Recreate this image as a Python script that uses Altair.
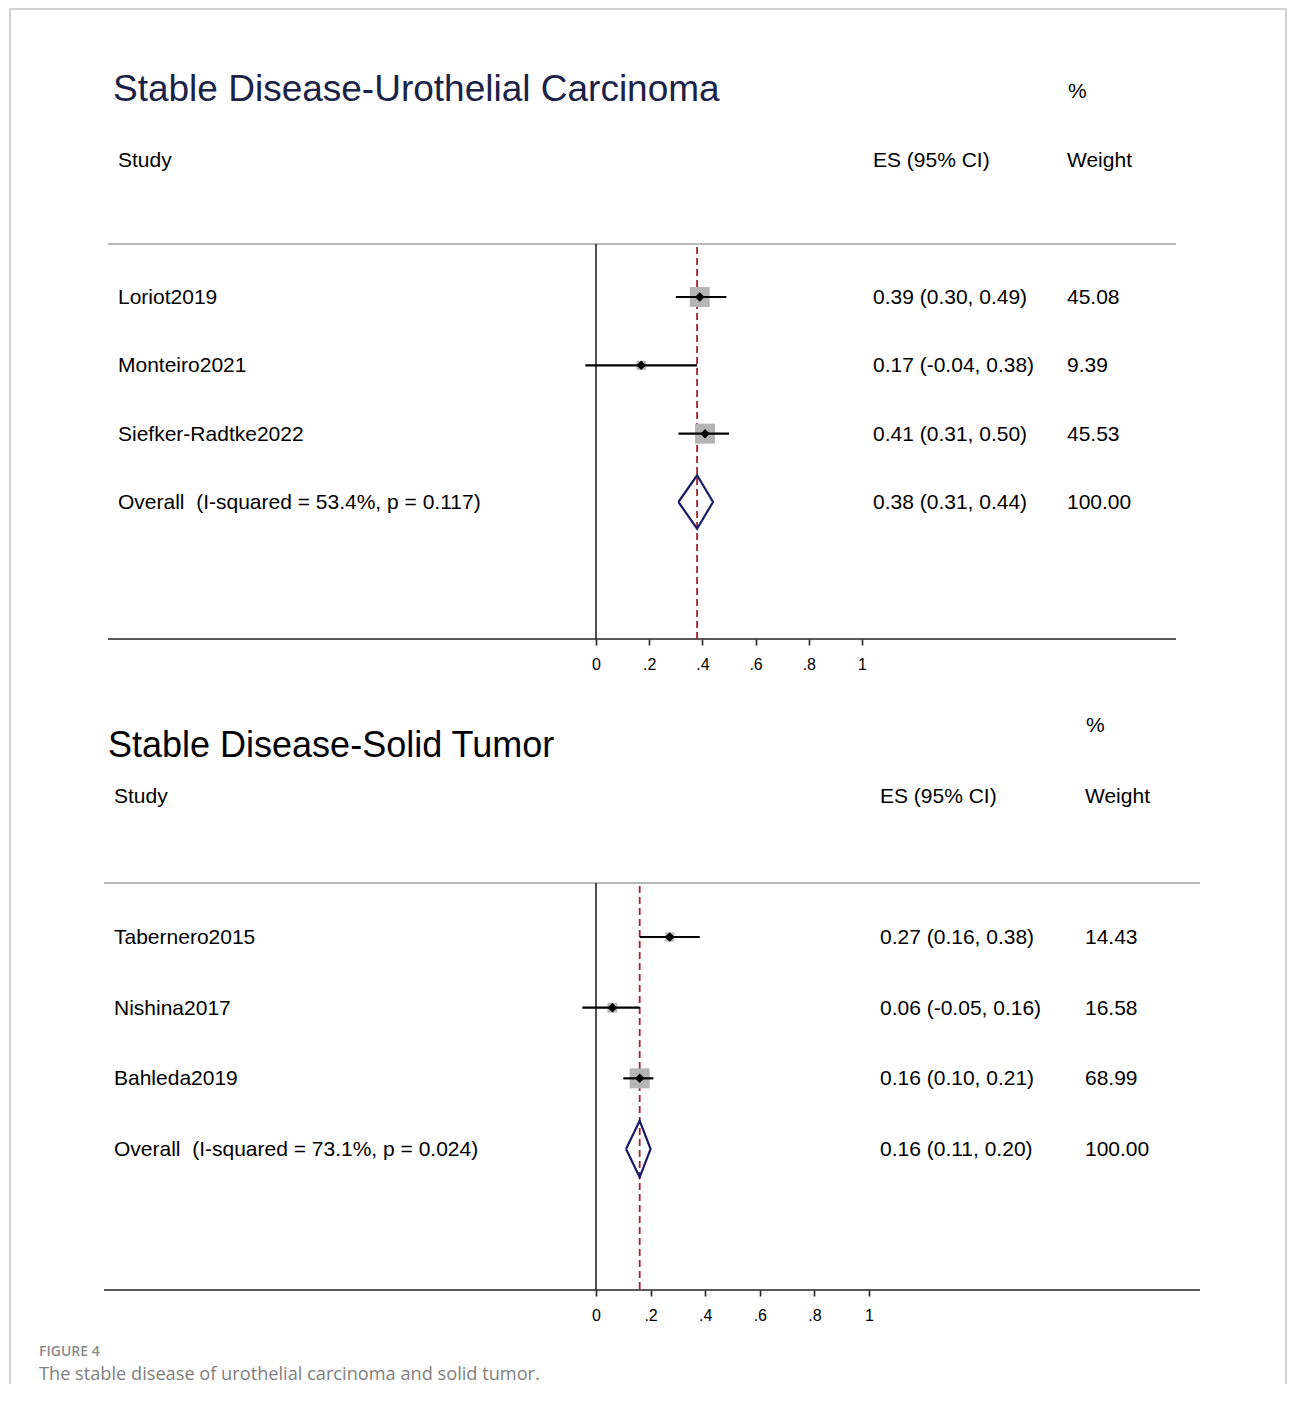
import altair as alt
import pandas as pd

FONT = "Liberation Sans"
W, H = 1279, 1376

# ---------------- data ----------------
top_title = "Stable Disease-Urothelial Carcinoma"
top_studies = ["Loriot2019", "Monteiro2021", "Siefker-Radtke2022"]
top_es = [0.39, 0.17, 0.41]
top_lo = [0.30, -0.04, 0.31]
top_hi = [0.49, 0.38, 0.50]
top_wt = [45.08, 9.39, 45.53]
top_overall = [0.38, 0.31, 0.44]
top_i2 = "53.4%"
top_p = "0.117"

bot_title = "Stable Disease-Solid Tumor"
bot_studies = ["Tabernero2015", "Nishina2017", "Bahleda2019"]
bot_es = [0.27, 0.06, 0.16]
bot_lo = [0.16, -0.05, 0.10]
bot_hi = [0.38, 0.16, 0.21]
bot_wt = [14.43, 16.58, 68.99]
bot_overall = [0.16, 0.11, 0.20]
bot_i2 = "73.1%"
bot_p = "0.024"

tick_values = [0, 0.2, 0.4, 0.6, 0.8, 1]
tick_labels = ["0", ".2", ".4", ".6", ".8", "1"]

caption_head = "FIGURE 4"
caption_text = "The stable disease of urothelial carcinoma and solid tumor."

# ---------------- layout (page pixels) ----------------
def P(v):
    return v - 8

top_layout = dict(x_left=108, x_right=1176, y_top=244, y_axis=639, x0=596, x1=862,
                  y_first=297, y_last=502, title_x=113, title_y=90, title_size=37,
                  title_color="#1b2247", pct_x=1068, pct_y=92, hdr_y=161,
                  study_x=118, es_x=873, wt_x=1067, diamond_half=26.7)
bot_layout = dict(x_left=104, x_right=1200, y_top=883, y_axis=1290, x0=596, x1=869,
                  y_first=937, y_last=1149, title_x=108, title_y=746, title_size=36,
                  title_color="#000000", pct_x=1086, pct_y=726, hdr_y=797,
                  study_x=114, es_x=880, wt_x=1085, diamond_half=28.3)

label_expr = " : ".join(
    f"abs(datum.value - {v}) < 1e-6 ? '{t}'" for v, t in zip(tick_values, tick_labels)
) + " : ''"

one = pd.DataFrame({"k": [0]})


def txt(text, x, y, size=21, color="black", font=FONT, weight="normal"):
    return alt.Chart(one).mark_text(
        text=text, align="left", baseline="middle", font=font, fontSize=size,
        color=color, fontWeight=weight
    ).encode(x=alt.value(x), y=alt.value(y))


def panel(title, studies, es, lo, hi, wt, ov, i2, p, L):
    n = len(studies)
    xs = alt.Scale(domain=[0, 1], range=[P(L["x0"]), P(L["x1"])], nice=False, zero=False)
    ys = alt.Scale(domain=[1, n + 1], range=[P(L["y_first"]), P(L["y_last"])],
                   nice=False, zero=False)
    axis = alt.Axis(orient="bottom", offset=P(L["y_axis"]) - H, values=tick_values,
                    labelExpr=label_expr, domain=False, grid=False, ticks=True,
                    tickSize=6, tickWidth=1.6, tickColor="#222222",
                    labelFont=FONT, labelFontSize=16, labelColor="black",
                    labelFlush=False, labelOverlap=False,
                    labelPadding=11, title=None)

    def X(field):
        return alt.X(field, type="quantitative", scale=xs, axis=axis)

    def XD(v):
        return alt.X(datum=v, type="quantitative", scale=xs, axis=axis)

    def Y(field):
        return alt.Y(field, type="quantitative", scale=ys, axis=None)

    df = pd.DataFrame({"row": list(range(1, n + 1)), "es": es, "lo": lo, "hi": hi, "wt": wt})
    labels = list(studies) + [f"Overall\u00a0 (I-squared = {i2}, p = {p})"]
    es_txt = [f"{a:.2f} ({b:.2f}, {c:.2f})" for a, b, c in zip(es, lo, hi)] + \
             [f"{ov[0]:.2f} ({ov[1]:.2f}, {ov[2]:.2f})"]
    wt_txt = [f"{w:.2f}" for w in wt] + ["100.00"]
    tdf = pd.DataFrame({"row": list(range(1, n + 2)), "label": labels,
                        "es_txt": es_txt, "wt_txt": wt_txt})

    row_px = (L["y_last"] - L["y_first"]) / n
    h = L["diamond_half"] / row_px
    r = n + 1
    ddf = pd.DataFrame({"x": [ov[1], ov[0], ov[2], ov[0], ov[1]],
                        "y": [r, r - h, r, r + h, r], "o": list(range(5))})

    top_line = alt.Chart(one).mark_rule(color="#a0a0a0", strokeWidth=1.5).encode(
        x=alt.value(P(L["x_left"])), x2=alt.value(P(L["x_right"])), y=alt.value(P(L["y_top"])))
    axis_line = alt.Chart(one).mark_rule(color="#222222", strokeWidth=1.6).encode(
        x=alt.value(P(L["x_left"])), x2=alt.value(P(L["x_right"])), y=alt.value(P(L["y_axis"])))
    zero_line = alt.Chart(one).mark_rule(color="#222222", strokeWidth=1.6).encode(
        x=XD(0), y=alt.value(P(L["y_top"])), y2=alt.value(P(L["y_axis"])))
    ov_line = alt.Chart(one).mark_rule(color="#a3242c", strokeWidth=1.8,
                                       strokeDash=[7, 4]).encode(
        x=XD(ov[0]), y=alt.value(P(L["y_top"]) + 3), y2=alt.value(P(L["y_axis"])))
    squares = alt.Chart(df).mark_square(color="#b4b4b4", opacity=1).encode(
        x=X("es"), y=Y("row"),
        size=alt.Size("wt:Q", scale=alt.Scale(domain=[0, max(wt)], range=[0, 400]),
                      legend=None))
    ci = alt.Chart(df).mark_rule(color="black", strokeWidth=2.2).encode(
        x=X("lo"), x2="hi", y=Y("row"))
    dots = alt.Chart(df).mark_point(shape="diamond", filled=True, color="black",
                                    size=90, opacity=1).encode(x=X("es"), y=Y("row"))
    diamond = alt.Chart(ddf).mark_line(color="#1a1a66", strokeWidth=2.2,
                                       strokeJoin="miter").encode(
        x=X("x"), y=Y("y"), order="o:Q")

    def col(field, xpos):
        return alt.Chart(tdf).mark_text(align="left", baseline="middle", font=FONT,
                                        fontSize=21, color="black", dy=1).encode(
            x=alt.value(P(xpos)), y=Y("row"), text=f"{field}:N")

    headers = [
        txt(title, P(L["title_x"]), P(L["title_y"]), size=L["title_size"], color=L["title_color"]),
        txt("%", P(L["pct_x"]), P(L["pct_y"])),
        txt("Study", P(L["study_x"]), P(L["hdr_y"])),
        txt("ES (95% CI)", P(L["es_x"]), P(L["hdr_y"])),
        txt("Weight", P(L["wt_x"]), P(L["hdr_y"])),
    ]

    return alt.layer(top_line, axis_line, zero_line, ov_line, squares, ci, dots, diamond,
                     col("label", L["study_x"]), col("es_txt", L["es_x"]),
                     col("wt_txt", L["wt_x"]), *headers)


top = panel(top_title, top_studies, top_es, top_lo, top_hi, top_wt, top_overall,
            top_i2, top_p, top_layout)
bot = panel(bot_title, bot_studies, bot_es, bot_lo, bot_hi, bot_wt, bot_overall,
            bot_i2, bot_p, bot_layout)

frame_color = "#d2d2d2"
frame = [
    alt.Chart(one).mark_rule(color=frame_color, strokeWidth=2).encode(
        x=alt.value(P(9)), x2=alt.value(W), y=alt.value(P(8) + 1)),
    alt.Chart(one).mark_rule(color=frame_color, strokeWidth=2).encode(
        x=alt.value(P(10)), y=alt.value(P(8)), y2=alt.value(H)),
    alt.Chart(one).mark_rule(color=frame_color, strokeWidth=2).encode(
        x=alt.value(W - 1), y=alt.value(P(8)), y2=alt.value(H)),
]

caption = [
    txt(caption_head, P(39), P(1352), size=14, color="#8a8a8a", font="Open Sans", weight=600),
    txt(caption_text, P(39), P(1375), size=18.2, color="#808080", font="Open Sans"),
]

chart = alt.layer(*frame, top, bot, *caption).resolve_scale(
    x="independent", y="independent", size="independent"
).properties(
    width=W, height=H, padding=0, autosize=alt.AutoSizeParams(type="none")
).configure_view(stroke=None)

chart.save("out.html", embed_options={"renderer": "svg", "actions": False})
